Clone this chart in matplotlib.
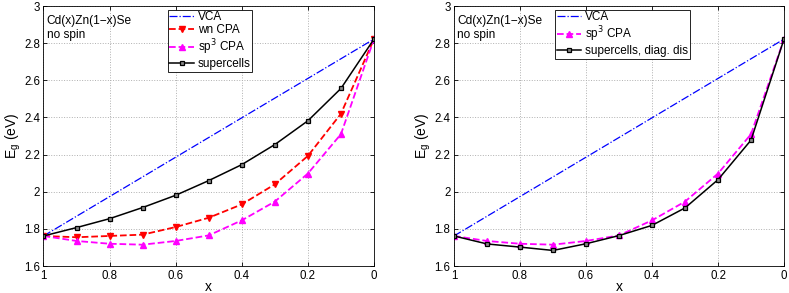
import matplotlib.pyplot as plt
import numpy as np

plt.rcParams['font.family'] = ['Liberation Sans', 'DejaVu Sans']

x = [1.0, 0.9, 0.8, 0.7, 0.6, 0.5, 0.4, 0.3, 0.2, 0.1, 0.0]
vca = [1.762, 1.868, 1.974, 2.080, 2.186, 2.292, 2.398, 2.504, 2.610, 2.716, 2.822]
wn_cpa = [1.762, 1.755, 1.762, 1.769, 1.810, 1.860, 1.932, 2.040, 2.193, 2.420, 2.822]
sp3_cpa = [1.762, 1.735, 1.720, 1.715, 1.735, 1.765, 1.846, 1.947, 2.098, 2.310, 2.822]
supercells = [1.762, 1.807, 1.855, 1.915, 1.981, 2.060, 2.146, 2.254, 2.382, 2.556, 2.822]
supercells_diag = [1.762, 1.719, 1.702, 1.684, 1.720, 1.764, 1.819, 1.913, 2.065, 2.278, 2.822]

xticks = [1, 0.8, 0.6, 0.4, 0.2, 0]
xticklabels = ['1', '0.8', '0.6', '0.4', '0.2', '0']
yticks = [1.6, 1.8, 2.0, 2.2, 2.4, 2.6, 2.8, 3.0]
yticklabels = ['1.6', '1.8', '2', '2.2', '2.4', '2.6', '2.8', '3']

fig = plt.figure(figsize=(7.89, 2.93), dpi=100)
ax1 = fig.add_axes([0.0551, 0.092, 0.4189, 0.8875])
ax2 = fig.add_axes([0.5754, 0.092, 0.4183, 0.8875])


def style(ax):
    ax.set_xlim(1, 0)
    ax.set_ylim(1.6, 3.0)
    ax.set_xticks(xticks)
    ax.set_xticklabels(xticklabels)
    ax.set_yticks(yticks)
    ax.set_yticklabels(yticklabels)
    ax.tick_params(direction='in', top=True, right=True, labelsize=8.3,
                   length=3, width=0.6, pad=2.5)
    ax.grid(True, linestyle=':', color='#b0b0b0', linewidth=0.7)
    for s in ax.spines.values():
        s.set_linewidth(0.6)
    ax.set_xlabel('x', fontsize=10, labelpad=-1)
    ax.set_ylabel('E$_\\mathregular{g}$ (eV)', fontsize=10, labelpad=1)
    ax.text(0.01, 0.965, 'Cd(x)Zn(1\u2212x)Se\nno spin', transform=ax.transAxes,
            fontsize=8.6, va='top', ha='left', linespacing=1.25)


def legend(ax, xpos):
    leg = ax.legend(loc='upper left', bbox_to_anchor=(xpos, 1.0), fontsize=8.5,
                    fancybox=False, edgecolor='black', framealpha=1, borderpad=0.15,
                    labelspacing=0.1, handlelength=2.1, handletextpad=0.3,
                    borderaxespad=0.3)
    leg.get_frame().set_linewidth(0.6)


ax1.plot(x, vca, color='#0000ff', linestyle='-.', linewidth=0.9, label='VCA')
ax1.plot(x, wn_cpa, color='#ff0000', linestyle='--', linewidth=1.3, marker='v',
         markersize=5, label='wn CPA')
ax1.plot(x, sp3_cpa, color='#ff00ff', linestyle='--', linewidth=1.3, marker='^',
         markersize=5, label='sp$^3$ CPA')
ax1.plot(x, supercells, color='black', linestyle='-', linewidth=1.1, marker='s',
         markersize=3.5, markerfacecolor='#888888', markeredgewidth=0.9,
         label='supercells')
style(ax1)
legend(ax1, 0.365)

ax2.plot(x, vca, color='#0000ff', linestyle='-.', linewidth=0.9, label='VCA')
ax2.plot(x, sp3_cpa, color='#ff00ff', linestyle='--', linewidth=1.3, marker='^',
         markersize=5, label='sp$^3$ CPA')
ax2.plot(x, supercells_diag, color='black', linestyle='-', linewidth=1.1, marker='s',
         markersize=3.5, markerfacecolor='#888888', markeredgewidth=0.9,
         label='supercells, diag. dis')
style(ax2)
legend(ax2, 0.295)

fig.savefig('out.png', dpi=100)
